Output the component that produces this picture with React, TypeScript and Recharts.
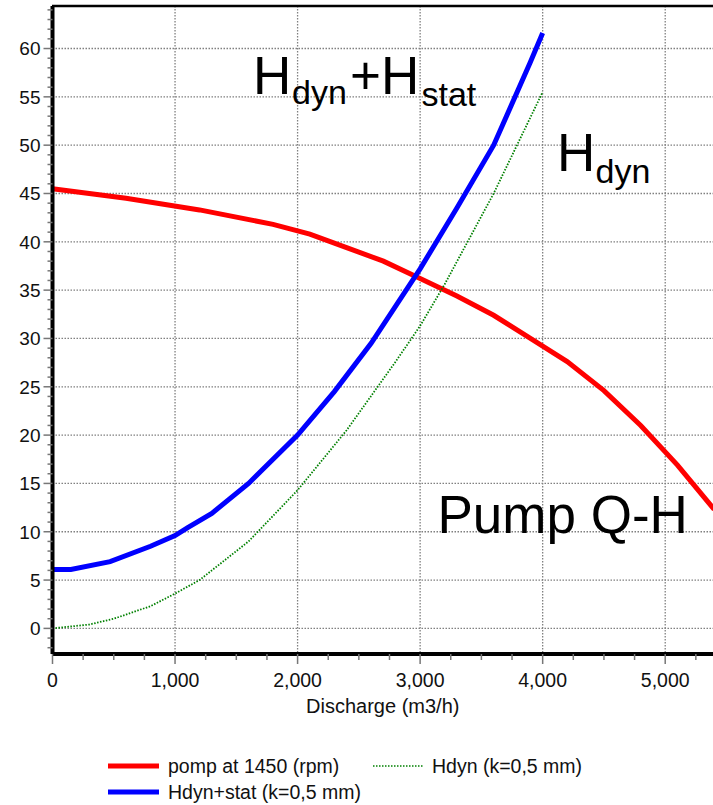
import { LineChart, Line, XAxis, YAxis, CartesianGrid, Legend, Customized } from 'recharts'

const pumpQ = [0, 600, 1200, 1800, 2100, 2400, 2700, 3000, 3300, 3600, 3900, 4200, 4500, 4800, 5100, 5400]
const pumpH = [45.5, 44.5, 43.3, 41.8, 40.8, 39.4, 38.0, 36.2, 34.4, 32.4, 30.0, 27.6, 24.6, 21.0, 16.9, 12.3]

const totalQ = [0, 150, 470, 800, 1000, 1100, 1300, 1600, 2000, 2300, 2600, 3000, 3300, 3600, 3900, 4000]
const totalH = [6.1, 6.1, 6.9, 8.5, 9.6, 10.4, 11.9, 15.0, 20.0, 24.5, 29.5, 37.2, 43.5, 50.0, 58.6, 61.6]

const dynQ = [0, 300, 500, 800, 1000, 1200, 1600, 2000, 2400, 2800, 3000, 3200, 3600, 4000]
const dynH = [0.0, 0.4, 1.0, 2.3, 3.6, 5.0, 9.0, 14.3, 20.5, 27.6, 31.3, 35.6, 45.0, 55.5]

const xTicks = Array.from({ length: 22 }, (_, i) => i * 250)
const yTicks = Array.from({ length: 67 }, (_, i) => i - 2)
const xGrid = [1000, 2000, 3000, 4000, 5000]
const yGrid = [0, 5, 10, 15, 20, 25, 30, 35, 40, 45, 50, 55, 60]

const X_DOMAIN: [number, number] = [0, 5390]
const Y_DOMAIN: [number, number] = [-2.65, 64.4]

const pumpData = pumpQ.map((q, i) => ({ q, h: pumpH[i] }))
const totalData = totalQ.map((q, i) => ({ q, h: totalH[i] }))
const dynData = dynQ.map((q, i) => ({ q, h: dynH[i] }))

const FONT = '"Liberation Sans", Arial, sans-serif'

const YTick = ({ x, y, payload }: any) => {
  const v = payload.value
  const major = v % 5 === 0 && v >= 0 && v <= 60
  return (
    <g>
      <line x1={x - (major ? 9 : 5)} x2={x} y1={y} y2={y} stroke="#777" strokeWidth={1.5} />
      {major && <text x={x - 12} y={y} dy="0.36em" textAnchor="end" fontSize={19} fill="#111">{v}</text>}
    </g>
  )
}

const XTick = ({ x, y, payload }: any) => {
  const v = payload.value
  const major = v % 1000 === 0
  return (
    <g>
      <line x1={x} x2={x} y1={y} y2={y + (major ? 10 : 6)} stroke="#777" strokeWidth={1.5} />
      {major && <text x={x} y={y + 19} dy="0.71em" textAnchor="middle" fontSize={19.5} fill="#111">{v.toLocaleString('en-US')}</text>}
    </g>
  )
}

// legend slot per series name
const legendSlots: Record<string, { x: number; y: number }> = {
  'pomp at 1450 (rpm)': { x: 108, y: 16 },
  'Hdyn+stat (k=0,5 mm)': { x: 108, y: 42 },
  'Hdyn (k=0,5 mm)': { x: 373, y: 16 },
}

const renderLegend = ({ payload }: any) => (
  <svg width={713} height={56} style={{ display: 'block' }}>
    {(payload || []).map((entry: any, i: number) => {
      const s = legendSlots[entry.value] || { x: 108, y: 16 }
      const dotted = entry.payload?.strokeDasharray
      return (
        <g key={i}>
          <line x1={s.x} x2={s.x + 51} y1={s.y} y2={s.y} stroke={entry.color}
            strokeWidth={dotted ? 1.6 : 5} strokeDasharray={dotted ? '1.5 1.5' : undefined} />
          <text x={s.x + (dotted ? 59 : 60)} y={s.y} dy="0.36em" fontSize={19.5} fill="#111" fontFamily={FONT}>{entry.value}</text>
        </g>
      )
    })}
  </svg>
)

const Annotations = () => (
  <g fontFamily={FONT} fill="#000">
    <line x1={52} x2={713} y1={6} y2={6} stroke="#000" strokeWidth={2.5} />
    <text y={94} fontSize={53}>
      <tspan x={253}>H</tspan>
      <tspan x={292} y={104} fontSize={34}>dyn</tspan>
      <tspan x={350} y={94}>+H</tspan>
      <tspan x={421.5} y={106} fontSize={34}>stat</tspan>
    </text>
    <text y={171} fontSize={53}>
      <tspan x={557}>H</tspan>
      <tspan x={595.5} y={183} fontSize={34}>dyn</tspan>
    </text>
    <text x={437.5} y={533} fontSize={53}>Pump Q-H</text>
  </g>
)

export default function App() {
  return (
    <div style={{ position: 'absolute', left: 0, top: 0, fontFamily: FONT }}>
      <LineChart width={713} height={805} margin={{ top: 6, right: 0, left: 0, bottom: 91 }} style={{ fontFamily: FONT }}>
        <CartesianGrid verticalValues={xGrid} horizontalValues={yGrid} stroke="#808080" strokeWidth={1.3} strokeDasharray="1.5 1.5" />
        <XAxis type="number" dataKey="q" domain={X_DOMAIN} allowDataOverflow ticks={xTicks} interval={0} height={60}
          tick={<XTick />} tickSize={0} tickMargin={0} tickLine={false}
          axisLine={{ stroke: '#000', strokeWidth: 4 }}
          label={{ value: 'Discharge (m3/h)', position: 'insideBottom', offset: 1, fontSize: 20, fill: '#111' }} />
        <YAxis type="number" domain={Y_DOMAIN} allowDataOverflow ticks={yTicks} interval={0} width={52.5}
          tick={<YTick />} tickSize={0} tickMargin={0} tickLine={false}
          axisLine={{ stroke: '#000', strokeWidth: 4 }} />
        <Line data={pumpData} dataKey="h" name="pomp at 1450 (rpm)" type="linear" stroke="#FF0000" strokeWidth={5} dot={false} isAnimationActive={false} />
        <Line data={totalData} dataKey="h" name="Hdyn+stat (k=0,5 mm)" type="linear" stroke="#0000FF" strokeWidth={5} dot={false} isAnimationActive={false} />
        <Line data={dynData} dataKey="h" name="Hdyn (k=0,5 mm)" type="linear" stroke="#008000" strokeWidth={1.8} strokeDasharray="1.5 1.5" dot={false} isAnimationActive={false} />
        <Legend layout="horizontal" verticalAlign="middle" align="center" content={renderLegend}
          wrapperStyle={{ top: 750, left: 0, width: 713, height: 56 }} />
        <Customized component={Annotations} />
      </LineChart>
    </div>
  )
}
